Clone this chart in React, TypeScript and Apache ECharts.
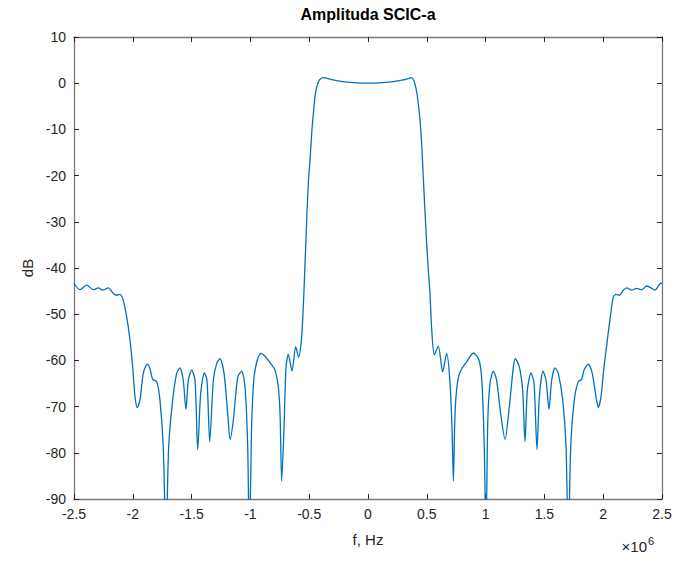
import React, { useEffect, useRef } from "react";
import * as echarts from "echarts";

const TITLE = "Amplituda SCIC-a";
const X_NAME = "f, Hz";
const Y_NAME = "dB";
const X_TICKS = { min: -2.5, max: 2.5, interval: 0.5 };
const Y_TICKS = { min: -90, max: 10, interval: 10 };
const X_SCALE_BASE = "×10";
const X_SCALE_EXP = "6";

// frequency in units of 1e6 Hz
const freq: number[] = [
  -2.5, -2.449, -2.392, -2.336, -2.293, -2.256, -2.208, -2.166, -2.137, -2.109,
  -2.081, -2.052, -2.024, -2.001, -1.981, -1.962, -1.939, -1.911, -1.877, -1.854,
  -1.831, -1.797, -1.769, -1.741, -1.718, -1.695, -1.661, -1.627, -1.599, -1.571,
  -1.548, -1.528, -1.499, -1.471, -1.448, -1.423, -1.392, -1.369, -1.346, -1.315,
  -1.287, -1.259, -1.224, -1.193, -1.173, -1.145, -1.108, -1.074, -1.046, -1.023,
  -1.009, -0.989, -0.969, -0.938, -0.91, -0.876, -0.833, -0.791, -0.763, -0.748,
  -0.734, -0.714, -0.697, -0.678, -0.646, -0.615, -0.59, -0.57, -0.556, -0.543,
  -0.53, -0.518, -0.506, -0.493, -0.479, -0.465, -0.451, -0.436, -0.414, -0.38,
  -0.338, -0.3, -0.2, -0.1, 0,
  0.1, 0.2, 0.3, 0.34, 0.368, 0.39, 0.405, 0.418, 0.43, 0.442, 0.456, 0.47,
  0.484, 0.499, 0.513, 0.527, 0.541, 0.564, 0.598, 0.635, 0.669, 0.695, 0.715,
  0.726, 0.737, 0.748, 0.77, 0.797, 0.839, 0.896, 0.938, 0.96, 0.975, 0.99,
  1.003, 1.018, 1.037, 1.066, 1.094, 1.128, 1.165, 1.202, 1.236, 1.253, 1.287,
  1.315, 1.335, 1.355, 1.386, 1.412, 1.437, 1.457, 1.488, 1.514, 1.539, 1.562,
  1.59, 1.618, 1.656, 1.684, 1.703, 1.724, 1.754, 1.788, 1.817, 1.837, 1.873,
  1.907, 1.939, 1.958, 1.981, 2.007, 2.035, 2.064, 2.086, 2.109, 2.137, 2.171,
  2.2, 2.242, 2.285, 2.327, 2.37, 2.412, 2.44, 2.483, 2.5,
];

const amplitude: number[] = [
  -43.3, -44.7, -43.7, -44.7, -44.3, -44.8, -44.3, -45.5, -45.9, -45.7,
  -47.0, -50.6, -55.6, -61.4, -67.9, -70.2, -68.6, -62.8, -60.8, -61.8,
  -64.1, -64.6, -68.6, -78.7, -100, -78.7, -68.6, -62.8, -61.6, -64.3,
  -70.6, -64.3, -62.1, -64.3, -79.3, -67.2, -62.7, -64.3, -77.6, -64.3,
  -60.7, -59.6, -62.8, -71.5, -77.1, -72.9, -63.6, -62.3, -65.7, -78.7,
  -100, -73.7, -63.6, -59.6, -58.5, -59.1, -60.5, -62.1, -65.7, -71.5,
  -86.1, -74.4, -61.4, -58.7, -62.3, -57.0, -59.3, -56.5, -51.5, -44.0,
  -35.5, -27.5, -21.0, -16.7, -10.9, -6.6, -3.0, -0.8, 0.65, 1.2,
  1.0, 0.7, 0.3, 0.07, 0,
  0.07, 0.3, 0.7, 1.0, 1.2, 0.6, -0.8, -2.5, -5.0, -8.0, -13.0, -20.3,
  -27.5, -34.7, -40.5, -45.5, -53.0, -58.8, -56.9, -62.5, -58.5, -64.0, -75.0,
  -86.1, -74.0, -67.9, -63.5, -61.8, -60.3, -58.4, -59.6, -62.0, -67.9, -80.0,
  -100, -73.7, -65.0, -62.3, -64.3, -71.5, -77.1, -70.0, -61.4, -59.6, -61.4,
  -66.5, -77.6, -66.5, -62.7, -65.0, -79.3, -67.9, -62.3, -64.3, -70.6, -64.3,
  -61.6, -62.8, -68.6, -78.7, -100, -78.7, -68.6, -64.6, -64.1, -62.1, -60.8,
  -62.8, -67.9, -70.2, -67.9, -61.4, -55.6, -49.9, -46.3, -45.7, -45.9, -44.8,
  -44.3, -44.8, -44.4, -44.7, -43.9, -44.4, -44.8, -43.4, -43.3,
];

const FONT = "'Liberation Sans', Arial, Helvetica, sans-serif";
const AXIS_COLOR = "#7a7a7a";
const TEXT_COLOR = "#262626";

export default function App() {
  const ref = useRef<HTMLDivElement>(null);

  useEffect(() => {
    document.body.style.margin = "0";
    if (!ref.current) return;
    const chart = echarts.init(ref.current, null, { renderer: "svg" });
    const data = freq.map((f, i) => [f, amplitude[i]]);

    const baseAxisX = {
      type: "value" as const,
      min: X_TICKS.min,
      max: X_TICKS.max,
      interval: X_TICKS.interval,
      splitLine: { show: false },
      axisLine: { show: true, onZero: false, lineStyle: { color: AXIS_COLOR, width: 1.3 } },
      axisTick: { show: true, inside: true, length: 5, lineStyle: { color: TEXT_COLOR } },
    };
    const baseAxisY = {
      type: "value" as const,
      min: Y_TICKS.min,
      max: Y_TICKS.max,
      interval: Y_TICKS.interval,
      splitLine: { show: false },
      axisLine: { show: true, onZero: false, lineStyle: { color: AXIS_COLOR, width: 1.3 } },
      axisTick: { show: true, inside: true, length: 5, lineStyle: { color: TEXT_COLOR } },
    };

    chart.setOption({
      animation: false,
      backgroundColor: "#ffffff",
      textStyle: { fontFamily: FONT },
      grid: { left: 74, right: 16, top: 37, bottom: 64, containLabel: false },
      xAxis: [
        {
          ...baseAxisX,
          position: "bottom",
          name: X_NAME,
          nameLocation: "middle",
          nameGap: 33,
          nameTextStyle: { color: TEXT_COLOR, fontSize: 15, fontFamily: FONT },
          axisLabel: { color: TEXT_COLOR, fontSize: 14, margin: 8, fontFamily: FONT },
        },
        {
          ...baseAxisX,
          position: "top",
          axisLabel: { show: false },
        },
      ],
      yAxis: [
        {
          ...baseAxisY,
          position: "left",
          name: Y_NAME,
          nameLocation: "middle",
          nameGap: 36,
          nameTextStyle: { color: TEXT_COLOR, fontSize: 15, fontFamily: FONT },
          axisLabel: { color: TEXT_COLOR, fontSize: 14, margin: 8, fontFamily: FONT },
        },
        {
          ...baseAxisY,
          position: "right",
          axisLabel: { show: false },
        },
      ],
      graphic: [
        {
          type: "text",
          x: 368,
          y: 6,
          style: {
            text: TITLE,
            font: `bold 16px ${FONT}`,
            fill: "#000",
            align: "center",
            verticalAlign: "top",
          },
        },
        {
          type: "text",
          x: 647,
          y: 554,
          style: {
            text: X_SCALE_BASE,
            font: `15px ${FONT}`,
            fill: TEXT_COLOR,
            align: "right",
            verticalAlign: "bottom",
          },
        },
        {
          type: "text",
          x: 648,
          y: 546,
          style: {
            text: X_SCALE_EXP,
            font: `11px ${FONT}`,
            fill: TEXT_COLOR,
            align: "left",
            verticalAlign: "bottom",
          },
        },
      ],
      series: [
        {
          type: "line",
          xAxisIndex: 0,
          yAxisIndex: 0,
          data,
          symbol: "none",
          smooth: 0.25,
          clip: true,
          lineStyle: { color: "#0072BD", width: 1.3 },
        },
      ],
    });

    return () => chart.dispose();
  }, []);

  return <div ref={ref} style={{ width: 678, height: 563 }} />;
}
